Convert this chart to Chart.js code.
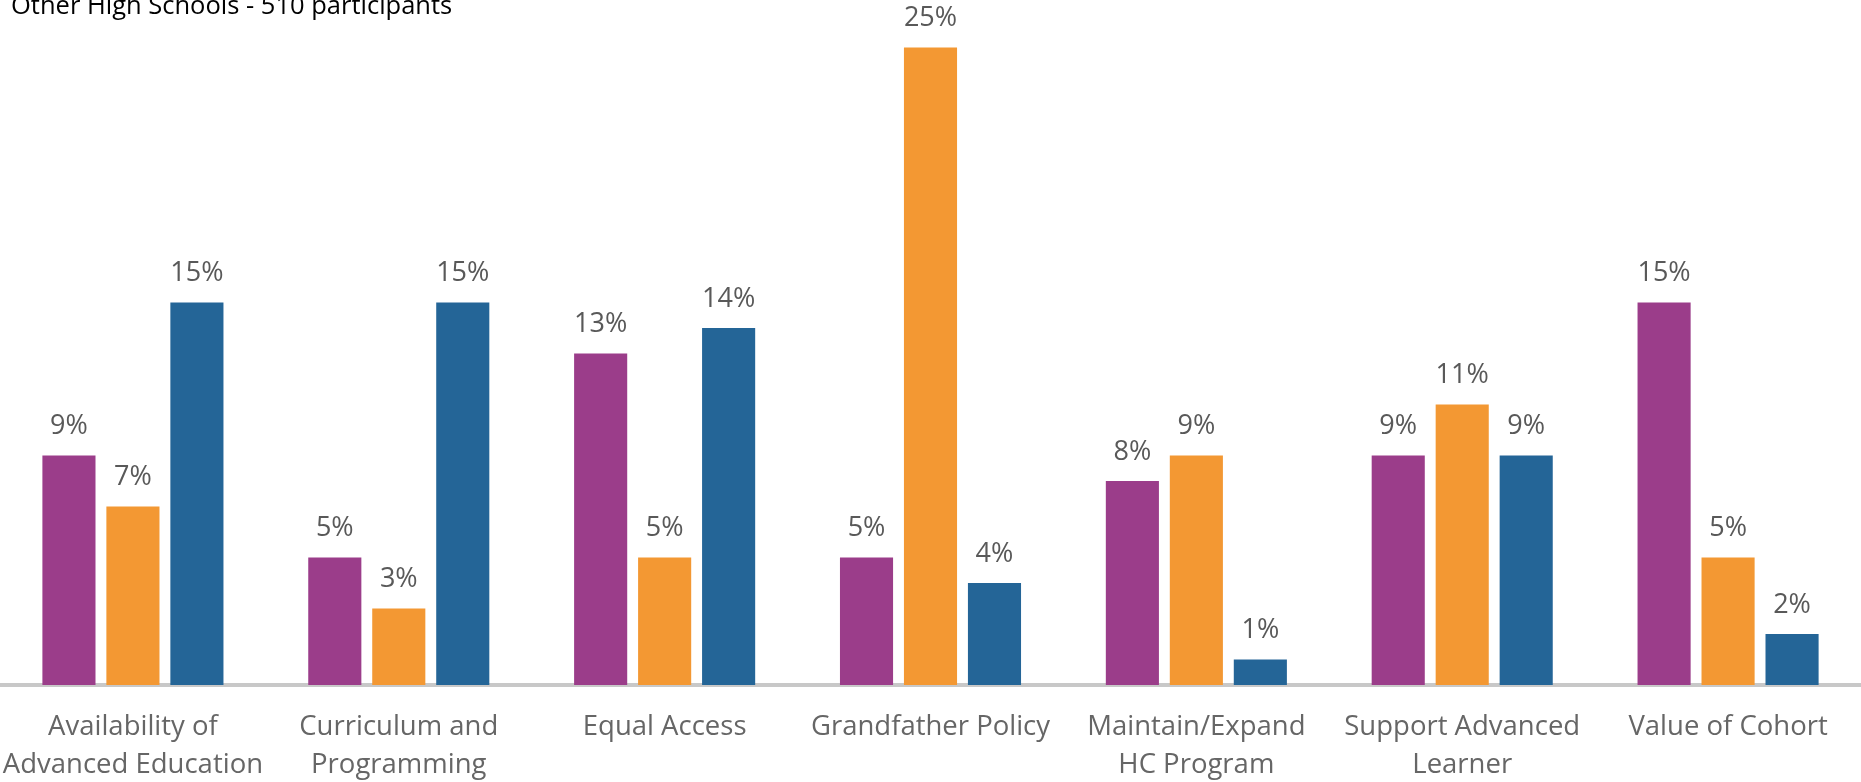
<!DOCTYPE html>
<html>
<head>
<meta charset="utf-8">
<script src="https://cdn.jsdelivr.net/npm/chart.js@4"></script>
<style>
  html, body { margin: 0; padding: 0; background: #fff; }
  #wrap { position: relative; width: 1861px; height: 782px; }
</style>
</head>
<body>
<div id="wrap"><canvas id="bars"></canvas></div>
<script>
var categories = [
    ['Availability of', 'Advanced Education'],
    ['Curriculum and', 'Programming'],
    'Equal Access',
    'Grandfather Policy',
    ['Maintain/Expand', 'HC Program'],
    ['Support Advanced', 'Learner'],
    'Value of Cohort'
];
var series1 = [9, 5, 13, 5, 8, 9, 15];
var series2 = [7, 3, 5, 25, 9, 11, 5];
var series3 = [15, 15, 14, 4, 1, 9, 2];
var titleText = 'Other High Schools - 510 participants';

// percent labels above each bar
var barLabels = {
    id: 'barLabels',
    afterDatasetsDraw: function (chart) {
        var ctx = chart.ctx;
        ctx.save();
        ctx.font = '27px "Open Sans"';
        ctx.fillStyle = '#595959';
        ctx.textAlign = 'center';
        ctx.textBaseline = 'alphabetic';
        chart.data.datasets.forEach(function (ds, i) {
            chart.getDatasetMeta(i).data.forEach(function (bar, j) {
                ctx.fillText(ds.data[j] + '%', bar.x, bar.y - 21);
            });
        });
        ctx.restore();
    }
};

// title text at the top-left corner, partly cut off like the original
var cornerTitle = {
    id: 'cornerTitle',
    afterDraw: function (chart) {
        var ctx = chart.ctx;
        ctx.save();
        ctx.font = '25.5px "Open Sans"';
        ctx.fillStyle = '#000';
        ctx.textAlign = 'left';
        ctx.textBaseline = 'alphabetic';
        ctx.fillText(titleText, 11, 14);
        ctx.restore();
    }
};

var ctx = document.getElementById('bars').getContext('2d');
var myChart = new Chart(ctx, {
    type: 'bar',
    data: {
        labels: categories,
        datasets: [{
            label: 'Series 1',
            data: series1,
            backgroundColor: '#9b3d8a'
        }, {
            label: 'Series 2',
            data: series2,
            backgroundColor: '#f39833'
        }, {
            label: 'Series 3',
            data: series3,
            backgroundColor: '#246597'
        }]
    },
    options: {
        responsive: true,
        maintainAspectRatio: false,
        animation: false,
        categoryPercentage: 0.722,
        barPercentage: 0.83,
        layout: { padding: 0 },
        plugins: {
            legend: { display: false },
            tooltip: { enabled: false }
        },
        scales: {
            x: {
                grid: { display: false, drawTicks: false },
                border: { display: true, color: '#c8c8c8', width: 4 },
                ticks: {
                    color: '#666666',
                    font: { family: 'Open Sans', size: 27.5, lineHeight: 1.38 },
                    padding: 23,
                    maxRotation: 0,
                    autoSkip: false
                },
                afterFit: function (scale) {
                    scale.height = 97;
                    scale.paddingLeft = 0;
                    scale.paddingRight = 0;
                }
            },
            y: {
                display: false,
                min: 0,
                max: 26.86
            }
        }
    },
    plugins: [barLabels, cornerTitle]
});
</script>
</body>
</html>
